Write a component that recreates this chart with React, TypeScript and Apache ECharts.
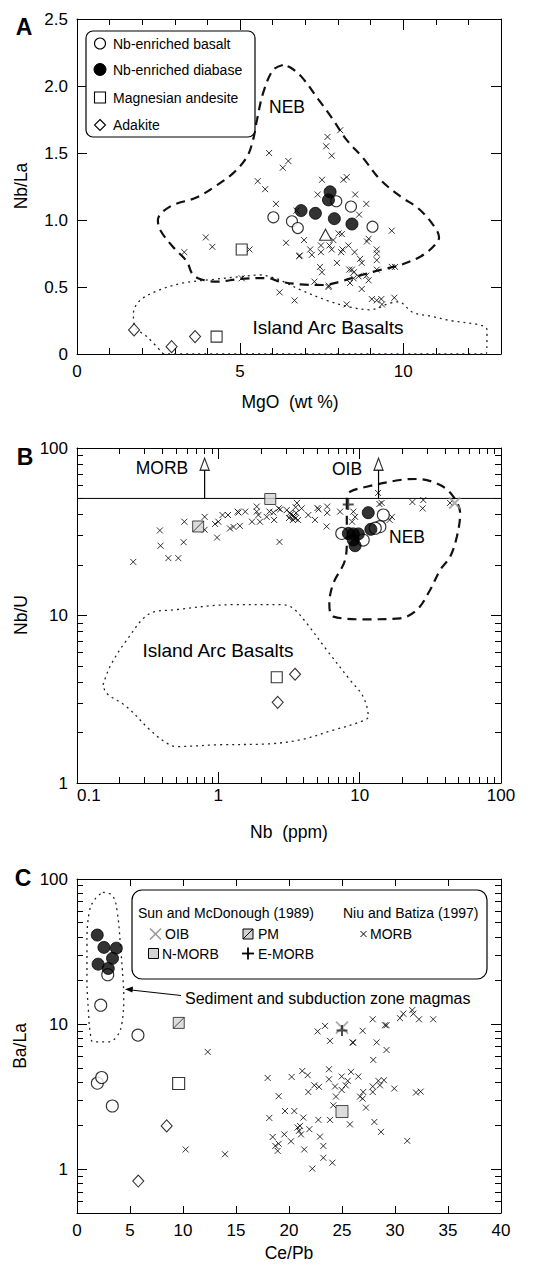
import React, { useEffect, useRef } from "react";
import * as echarts from "echarts";

const FONT = '"Liberation Sans", Arial, Helvetica, sans-serif';

// ---------------- Panel A : Nb/La vs MgO ----------------
const aMorb: number[][] = [
  [5.89, 1.5], [6.31, 1.39], [6.48, 1.44], [5.54, 1.29], [5.77, 1.23], [7.68, 1.62], [8.07, 1.67],
  [7.64, 1.55], [7.81, 1.48], [7.51, 1.3], [8.17, 1.3], [8.27, 1.32], [8.53, 1.19], [7.38, 1.19],
  [6.1, 1.12], [6.73, 1.07], [8.87, 1.12], [8.65, 1.04], [9.65, 0.92],
  [3.95, 0.87], [4.15, 0.8], [3.29, 0.76], [5.29, 0.78], [6.41, 0.83], [6.96, 0.85],
  [6.81, 0.73], [6.83, 0.735], [7.15, 0.78], [7.2, 0.74], [7.48, 0.81], [7.48, 0.76],
  [7.45, 0.65], [7.51, 0.61], [7.28, 0.54], [7.74, 0.81], [7.86, 0.85], [7.81, 0.78], [7.97, 0.68],
  [8.02, 0.9], [8.12, 0.895], [8.1, 0.76], [8.14, 0.78], [8.32, 0.81], [8.51, 0.76], [8.68, 0.71], [8.73, 0.68],
  [8.89, 0.84], [8.94, 0.86], [9.19, 0.78], [9.19, 0.75], [9.19, 0.7], [9.19, 0.63],
  [8.43, 0.63], [8.48, 0.565], [8.37, 0.53], [8.63, 0.58], [8.73, 0.485], [8.94, 0.55],
  [8.35, 0.63], [8.49, 0.61], [8.87, 0.585], [7.72, 0.51],
  [9.65, 0.65], [9.75, 0.65], [7.71, 0.5], [6.21, 0.46], [6.67, 0.4], [8.27, 0.37],
  [9.04, 0.41], [9.19, 0.4], [9.33, 0.41], [9.35, 0.37], [9.73, 0.42], [5.05, 0.565],
];
const aBasalt: number[][] = [[6.02, 1.02], [6.59, 0.99], [6.77, 0.94], [7.95, 1.14], [8.4, 1.1], [9.06, 0.95]];
const aDiabase: number[][] = [[6.87, 1.07], [7.31, 1.05], [7.89, 1.01], [8.43, 0.97], [7.76, 1.21], [7.71, 1.15]];
const aAndesite: number[][] = [[5.05, 0.78], [4.28, 0.13]];
const aAdakite: number[][] = [[1.75, 0.18], [2.9, 0.055], [3.62, 0.13]];
const aOther: number[][] = [[7.62, 0.89]];
const aNeb: number[][] = [
  [6.31, 2.157], [6.01, 2.12], [5.71, 1.95], [5.52, 1.75], [5.4, 1.6], [5.21, 1.47], [4.79, 1.35],
  [4.29, 1.26], [3.68, 1.17], [2.85, 1.1], [2.48, 1.0], [2.55, 0.925], [2.94, 0.8], [3.37, 0.69],
  [3.53, 0.6], [3.77, 0.56], [4.29, 0.54], [5.0, 0.56], [5.83, 0.567], [6.23, 0.54], [6.84, 0.52],
  [7.55, 0.515], [8.07, 0.54], [8.59, 0.58], [9.29, 0.627], [9.91, 0.664], [10.52, 0.726],
  [10.92, 0.8], [11.1, 0.87], [10.9, 0.97], [10.45, 1.09], [9.95, 1.17], [9.3, 1.3], [8.78, 1.46],
  [8.26, 1.6], [7.82, 1.76], [7.4, 1.9], [6.88, 2.07], [6.53, 2.14], [6.31, 2.157],
];
const aIab: number[][] = [
  [2.65, 0.0], [2.14, 0.13], [1.78, 0.2], [1.73, 0.3], [1.93, 0.4], [2.55, 0.48], [3.26, 0.53],
  [4.18, 0.557], [5.0, 0.577], [5.61, 0.59], [6.02, 0.57], [6.33, 0.54], [6.84, 0.48], [7.66, 0.4],
  [8.37, 0.35], [8.99, 0.33], [9.6, 0.38], [9.85, 0.39], [10.3, 0.31], [10.9, 0.28], [11.44, 0.25],
  [12.36, 0.216], [12.57, 0.18], [12.55, 0.0], [2.65, 0.0],
];
const aXMajor = [0, 5, 10];
const aXMinor = [1, 2, 3, 4, 6, 7, 8, 9, 11, 12];
const aYTicks = [0, 0.5, 1, 1.5, 2, 2.5];

// ---------------- Panel B : Nb/U vs Nb ----------------
const bMorb: number[][] = [
  [0.25, 20.9], [0.386, 32.2], [0.39, 26.1], [0.443, 22.0], [0.521, 22.0], [0.575, 36.3], [0.568, 27.4],
  [0.8, 38.8], [0.8, 32.5], [0.948, 35.2], [1.0, 36.3], [0.98, 29.2], [1.07, 39.8], [1.17, 39.8],
  [1.21, 33.1], [1.28, 33.8], [1.37, 41.7], [1.39, 41.2], [1.42, 34.3], [1.55, 41.7], [1.73, 36.3],
  [1.87, 44.7], [1.87, 41.7], [1.92, 39.8], [1.97, 36.3], [2.2, 38.8], [2.3, 41.7], [2.48, 37.2],
  [2.45, 41.2], [2.67, 43.6], [2.74, 43.0], [2.71, 27.5], [3.05, 42.6], [3.27, 40.2], [3.37, 37.2],
  [3.45, 38.8], [3.55, 41.0], [3.6, 47.0], [3.52, 44.3], [3.66, 37.2], [3.16, 38.2], [3.88, 43.6],
  [3.2, 40.9], [3.4, 39.5], [3.5, 37.9],
  [4.33, 39.8], [4.83, 37.2], [5.03, 43.8], [5.12, 43.0], [5.89, 44.7], [5.89, 41.0], [5.84, 34.0],
  [7.27, 41.7], [9.02, 41.7], [9.28, 38.8], [8.84, 36.3], [13.5, 53.9], [13.8, 46.3], [14.3, 47.0],
  [16.9, 38.8], [16.3, 37.2], [23.6, 47.6], [28.2, 48.9], [27.9, 43.6], [43.6, 47.0],
];
const bBasalt: number[][] = [[14.7, 39.8], [13.9, 33.9], [12.9, 33.2], [7.47, 30.9], [10.6, 28.2]];
const bDiabase: number[][] = [[11.5, 41.1], [12.0, 32.7], [8.32, 30.9], [9.02, 30.7], [9.79, 30.7], [9.02, 28.2], [9.28, 26.1]];
const bAndesite: number[][] = [[2.59, 4.28]];
const bAdakite: number[][] = [[3.49, 4.46], [2.63, 3.03]];
const bPM: number[][] = [[0.72, 34]];
const bNMorb: number[][] = [[2.33, 49.6]];
const bOib: number[][] = [[47, 47]];
const bEMorb: number[][] = [[8.3, 46]];
const bLimit: number[][] = [[0.1, 50], [100, 50]];
const bArrowMorb: number[][] = [[0.8, 50], [0.8, 74]];
const bArrowOib: number[][] = [[13.6, 50], [13.6, 74]];
const bArrowHeads: number[][] = [[0.8, 80], [13.6, 80]];
const bNeb: number[][] = [
  [8.11, 44.6], [8.11, 50.2], [8.55, 54.8], [11.2, 58.7], [19.3, 64.4], [25.4, 65.3], [37.1, 60.1],
  [46.0, 51.2], [51.4, 40.7], [48.7, 29.5], [43.6, 22.4], [37.1, 18.7], [31.5, 14.2], [25.4, 10.8],
  [19.3, 9.62], [11.2, 9.49], [6.52, 9.84], [6.1, 11.8], [6.52, 15.6], [7.88, 21.4], [8.11, 28.2],
  [8.11, 35.5], [8.11, 44.6],
];
const bIab: number[][] = [
  [0.153, 3.85], [0.171, 4.95], [0.225, 7.14], [0.329, 10.3], [0.48, 10.8], [1.28, 11.6], [2.88, 11.6],
  [3.4, 11.0], [4.22, 8.98], [5.85, 6.22], [8.55, 4.12], [10.6, 3.27], [11.5, 2.49], [10.1, 2.32],
  [6.52, 2.07], [3.79, 1.81], [2.2, 1.71], [0.975, 1.69], [0.508, 1.65], [0.431, 1.73], [0.329, 2.07],
  [0.225, 2.85], [0.162, 3.43], [0.153, 3.85],
];
const bXMajor = [0.1, 1, 10, 100];
const bXMinor = [0.2, 0.3, 0.4, 0.5, 0.6, 0.7, 0.8, 0.9, 2, 3, 4, 5, 6, 7, 8, 9, 20, 30, 40, 50, 60, 70, 80, 90];
const bYMajor = [1, 10, 100];
const bYMinor = [2, 3, 4, 5, 6, 7, 8, 9, 20, 30, 40, 50, 60, 70, 80, 90];

// ---------------- Panel C : Ba/La vs Ce/Pb ----------------
const cMorb: number[][] = [
  [12.33, 6.44], [10.25, 1.37], [13.96, 1.27], [17.99, 4.26], [18.14, 2.26], [19.03, 3.19],
  [18.46, 1.67], [18.71, 1.45], [18.93, 1.34], [19.03, 1.5], [19.62, 2.52], [20.5, 2.52],
  [19.56, 1.74], [20.19, 1.56], [20.25, 4.33], [21.35, 2.27], [20.82, 1.94], [21.04, 1.99],
  [21.13, 1.74], [20.94, 1.84], [21.25, 4.76], [21.76, 4.45], [21.44, 1.37], [21.82, 3.41],
  [21.92, 1.89], [22.2, 1.01], [22.39, 3.79], [22.83, 3.7], [22.77, 2.19], [22.7, 8.91],
  [23.4, 9.73], [22.92, 1.68], [23.24, 1.45], [23.24, 1.2], [23.87, 7.67], [23.77, 4.89],
  [23.77, 4.17], [23.87, 2.19], [24.18, 2.76], [24.09, 1.11], [24.34, 3.72], [24.43, 3.17],
  [24.97, 4.36], [24.97, 3.52], [25.35, 3.79], [25.54, 4.07], [25.75, 2.04], [25.85, 4.69],
  [26.0, 7.49], [26.05, 7.45], [26.54, 4.36], [26.7, 3.17], [26.95, 3.07], [27.0, 3.41], [27.26, 2.66],
  [26.95, 9.0], [27.9, 3.72], [27.9, 3.41], [28.05, 2.12], [27.95, 5.67], [27.9, 10.8],
  [28.27, 7.49], [28.43, 4.07], [28.58, 3.79], [28.96, 4.11], [28.68, 1.81], [29.06, 9.83],
  [29.2, 9.83], [29.2, 6.64], [29.93, 3.6], [30.47, 11.0], [30.78, 11.8], [31.63, 12.5],
  [31.73, 11.8], [32.26, 10.8], [33.6, 10.8], [31.16, 1.57], [31.98, 3.38], [32.42, 3.43],
];
const cBasalt: number[][] = [[2.24, 13.5], [5.75, 8.4], [1.92, 3.92], [2.33, 4.29], [3.33, 2.73], [2.9, 21.9]];
const cDiabase: number[][] = [[1.91, 41.1], [2.54, 33.8], [3.71, 33.4], [3.35, 28.4], [1.99, 25.9], [2.95, 24.2]];
const cAndesite: number[][] = [[9.59, 3.9]];
const cAdakite: number[][] = [[8.46, 1.99], [5.78, 0.83]];
const cPM: number[][] = [[9.6, 10.2]];
const cNMorb: number[][] = [[25, 2.5]];
const cOib: number[][] = [[25, 9.46]];
const cEMorb: number[][] = [[25, 9.05]];
const cEnvelope: number[][] = [
  [2.44, 81], [3.35, 76.7], [3.8, 58.9], [4.1, 34.7], [4.34, 20.4], [4.41, 15.7], [4.25, 10.3],
  [3.8, 8.3], [2.9, 7.55], [1.54, 7.55], [1.25, 8.77], [1.09, 12.0], [0.94, 20.4], [0.94, 34.7],
  [1.15, 58.9], [1.7, 72.8], [2.44, 81],
];
const cXTicks = [0, 5, 10, 15, 20, 25, 30, 35, 40];
const cYMajor = [1, 10, 100];
const cYMinor = [0.6, 0.7, 0.8, 0.9, 2, 3, 4, 5, 6, 7, 8, 9, 20, 30, 40, 50, 60, 70, 80, 90];

// ---------------- helpers ----------------
type Spec = {
  type: "value" | "log"; min: number; max: number; major: number[]; minor: number[];
  majorLen: number; minorLen: number; labels: number[]; margin: number; fmt: (v: number) => string;
  alignMin?: string;
};

function buildAxes(dim: "x" | "y", g: number, s: Spec) {
  const positions = dim === "x" ? ["bottom", "top"] : ["left", "right"];
  const out: any[] = [];
  positions.forEach((pos, i) => {
    [true, false].forEach((major) => {
      const vals = major ? s.major : s.minor;
      const label: any = i === 0 && major
        ? { show: true, customValues: s.labels, margin: s.margin, color: "#000", fontSize: 17, fontFamily: FONT, formatter: s.fmt }
        : { show: false };
      if (s.alignMin && label.show) label.alignMinLabel = s.alignMin;
      out.push({
        gridIndex: g, type: s.type, min: s.min, max: s.max, position: pos, logBase: 10,
        axisLine: { show: major, onZero: false, lineStyle: { color: "#000", width: 1 } },
        axisTick: {
          show: vals.length > 0, inside: true, length: major ? s.majorLen : s.minorLen,
          customValues: vals, lineStyle: { color: "#000", width: 1 },
        },
        axisLabel: label,
        splitLine: { show: false },
        minorTick: { show: false },
        axisPointer: { show: false },
      });
    });
  });
  return out;
}

const CROSS = "path://M0,0L10,10M10,0L0,10";
const PLUS = "path://M5,0L5,10M0,5L10,5";
const HATCH = "path://M0,0L10,0L10,10L0,10Z M0,10L10,0";

function sc(g: number, data: number[][], symbol: string, size: any, style: any, z: number) {
  return { type: "scatter", xAxisIndex: g * 4, yAxisIndex: g * 4, data, symbol, symbolSize: size, itemStyle: style, z, silent: true };
}
function ln(g: number, data: number[][], style: any, smooth: number | boolean, z = 2) {
  return { type: "line", xAxisIndex: g * 4, yAxisIndex: g * 4, data, symbol: "none", lineStyle: style, smooth, silent: true, z };
}

const crossStyle = { color: "rgba(0,0,0,0)", borderColor: "#000", borderWidth: 1 };
const openStyle = { color: "#fff", borderColor: "#000", borderWidth: 1.1 };
const fillStyle = { color: "#000", borderColor: "#000", borderWidth: 1 };
const dashed = { color: "#111", width: 2.2, type: [9, 6] };
const dotted = { color: "#222", width: 1.3, type: [2, 4] };

function txt(x: number, y: number, text: string, size: number, extra: any = {}) {
  return {
    type: "text", x, y, z: 100, silent: true, ...extra,
    style: { text, fontSize: size, fontFamily: FONT, fill: "#000", align: "center", verticalAlign: "middle", ...(extra.style || {}) },
  };
}

export default function App() {
  const ref = useRef<HTMLDivElement>(null);
  useEffect(() => {
    if (!ref.current) return;
    const chart = echarts.init(ref.current, null, { renderer: "svg" });
    const fmtA = (v: number) => (v === 0 ? "0" : v.toFixed(1));
    const fmtS = (v: number) => String(+Number(v).toPrecision(4));

    const xAxis = [
      ...buildAxes("x", 0, { type: "value", min: 0, max: 13, major: aXMajor, minor: aXMinor, majorLen: 11, minorLen: 6, labels: aXMajor, margin: 9, fmt: fmtS }),
      ...buildAxes("x", 1, { type: "log", min: 0.1, max: 100, major: bXMajor, minor: bXMinor, majorLen: 11, minorLen: 6, labels: bXMajor, margin: 4, fmt: fmtS, alignMin: "left" }),
      ...buildAxes("x", 2, { type: "value", min: 0, max: 40, major: cXTicks, minor: [], majorLen: 7, minorLen: 4, labels: cXTicks, margin: 9, fmt: fmtS }),
    ];
    const yAxis = [
      ...buildAxes("y", 0, { type: "value", min: 0, max: 2.5, major: aYTicks, minor: [], majorLen: 10, minorLen: 5, labels: aYTicks, margin: 9, fmt: fmtA }),
      ...buildAxes("y", 1, { type: "log", min: 1, max: 100, major: bYMajor, minor: bYMinor, majorLen: 10, minorLen: 6, labels: bYMajor, margin: 9, fmt: fmtS }),
      ...buildAxes("y", 2, { type: "log", min: 0.5, max: 100, major: cYMajor, minor: cYMinor, majorLen: 10, minorLen: 6, labels: cYMajor, margin: 9, fmt: fmtS }),
    ];

    const series: any[] = [
      // Panel A
      ln(0, aIab, dotted, 0.35),
      ln(0, aNeb, dashed, 0.35),
      sc(0, aMorb, CROSS, 6, crossStyle, 3),
      sc(0, aOther, "triangle", [12, 11], openStyle, 4),
      sc(0, aAndesite, "rect", 11, openStyle, 4),
      sc(0, aAdakite, "diamond", [11, 12], openStyle, 4),
      sc(0, aBasalt, "circle", 11, openStyle, 4),
      sc(0, aDiabase, "circle", 12, fillStyle, 5),
      // Panel B
      ln(1, bIab, dotted, 0.35),
      ln(1, bNeb, dashed, 0.35),
      ln(1, bLimit, { color: "#000", width: 1 }, false),
      ln(1, bArrowMorb, { color: "#000", width: 1.2 }, false),
      ln(1, bArrowOib, { color: "#000", width: 1.2 }, false),
      sc(1, bArrowHeads, "triangle", [9, 12], { color: "#fff", borderColor: "#000", borderWidth: 1.3 }, 4),
      sc(1, bMorb, CROSS, 6, crossStyle, 3),
      sc(1, bAndesite, "rect", 11, openStyle, 4),
      sc(1, bAdakite, "diamond", [11, 12], openStyle, 4),
      sc(1, bBasalt, "circle", 12, openStyle, 4),
      sc(1, bDiabase, "circle", 12, fillStyle, 5),
      sc(1, bPM, HATCH, 11, { color: "#d3d3d3", borderColor: "#222", borderWidth: 1 }, 6),
      sc(1, bNMorb, "rect", 11, { color: "#d3d3d3", borderColor: "#222", borderWidth: 1 }, 6),
      sc(1, bOib, CROSS, 11, { color: "rgba(0,0,0,0)", borderColor: "#999", borderWidth: 2 }, 6),
      sc(1, bEMorb, PLUS, 11, { color: "rgba(0,0,0,0)", borderColor: "#222", borderWidth: 2 }, 6),
      // Panel C
      ln(2, cEnvelope, dotted, 0.4),
      sc(2, cMorb, CROSS, 6, crossStyle, 3),
      sc(2, cAndesite, "rect", 12, openStyle, 4),
      sc(2, cAdakite, "diamond", [11, 12], openStyle, 4),
      sc(2, cBasalt, "circle", 12, openStyle, 4),
      sc(2, cDiabase, "circle", 12, fillStyle, 5),
      sc(2, cPM, HATCH, 11, { color: "#d3d3d3", borderColor: "#222", borderWidth: 1 }, 6),
      sc(2, cNMorb, "rect", 12, { color: "#d3d3d3", borderColor: "#222", borderWidth: 1 }, 6),
      sc(2, cOib, CROSS, 12, { color: "rgba(0,0,0,0)", borderColor: "#999", borderWidth: 2 }, 6),
      sc(2, cEMorb, PLUS, 11, { color: "rgba(0,0,0,0)", borderColor: "#222", borderWidth: 2 }, 7),
    ];

    const left = (extra: any = {}) => ({ ...extra, style: { align: "left", ...(extra.style || {}) } });
    const graphic: any[] = [
      // panel letters
      txt(24, 27, "A", 23, { style: { fontWeight: "bold" } }),
      txt(25, 457, "B", 23, { style: { fontWeight: "bold" } }),
      txt(23, 878, "C", 23, { style: { fontWeight: "bold" } }),
      // axis titles
      txt(21, 186, "Nb/La", 17.5, { rotation: Math.PI / 2 }),
      txt(290, 402, "MgO  (wt %)", 17.5),
      txt(21, 615, "Nb/U", 17.5, { rotation: Math.PI / 2 }),
      txt(289, 832, "Nb  (ppm)", 17.5),
      txt(20, 1046, "Ba/La", 17.5, { rotation: Math.PI / 2 }),
      txt(289, 1253, "Ce/Pb", 17.5),
      // region labels
      txt(287, 107, "NEB", 17.5),
      txt(328, 327, "Island Arc Basalts", 19),
      txt(162, 468, "MORB", 17.5),
      txt(347, 469, "OIB", 17.5),
      txt(407, 537, "NEB", 17.5),
      txt(218, 650, "Island Arc Basalts", 19),
      txt(185, 998, "Sediment and subduction zone magmas", 16, left()),
      // legend A
      { type: "rect", z: 90, silent: true, shape: { x: 86, y: 31, width: 169, height: 106, r: 7 }, style: { fill: "#fff", stroke: "#000", lineWidth: 1.2 } },
      { type: "circle", z: 95, silent: true, shape: { cx: 100, cy: 43.5, r: 5.5 }, style: { fill: "#fff", stroke: "#000", lineWidth: 1.1 } },
      { type: "circle", z: 95, silent: true, shape: { cx: 100, cy: 69.5, r: 6 }, style: { fill: "#000", stroke: "#000" } },
      { type: "rect", z: 95, silent: true, shape: { x: 94.5, y: 92, width: 11, height: 11 }, style: { fill: "#fff", stroke: "#000", lineWidth: 1.1 } },
      { type: "polygon", z: 95, silent: true, shape: { points: [[100, 119.5], [105.5, 125], [100, 130.5], [94.5, 125]] }, style: { fill: "#fff", stroke: "#000", lineWidth: 1.1 } },
      txt(113, 43.5, "Nb-enriched basalt", 14, left()),
      txt(113, 69.5, "Nb-enriched diabase", 14, left()),
      txt(113, 97.5, "Magnesian andesite", 14, left()),
      txt(113, 125, "Adakite", 14, left()),
      // legend C
      { type: "rect", z: 90, silent: true, shape: { x: 132, y: 890, width: 355, height: 89, r: 10 }, style: { fill: "#fff", stroke: "#000", lineWidth: 1.2 } },
      txt(138, 912.5, "Sun and McDonough (1989)", 14, left()),
      txt(343, 912.5, "Niu and Batiza (1997)", 14, left()),
      { type: "line", z: 95, silent: true, shape: { x1: 150, y1: 928.5, x2: 161, y2: 939.5 }, style: { stroke: "#999", lineWidth: 1.6 } },
      { type: "line", z: 95, silent: true, shape: { x1: 161, y1: 928.5, x2: 150, y2: 939.5 }, style: { stroke: "#999", lineWidth: 1.6 } },
      txt(165, 934, "OIB", 14, left()),
      { type: "rect", z: 95, silent: true, shape: { x: 243, y: 929, width: 10, height: 10 }, style: { fill: "#d3d3d3", stroke: "#000", lineWidth: 1 } },
      { type: "line", z: 96, silent: true, shape: { x1: 243, y1: 939, x2: 253, y2: 929 }, style: { stroke: "#000", lineWidth: 1 } },
      txt(258, 934, "PM", 14, left()),
      { type: "line", z: 95, silent: true, shape: { x1: 360.5, y1: 931, x2: 366.5, y2: 937 }, style: { stroke: "#000", lineWidth: 1 } },
      { type: "line", z: 95, silent: true, shape: { x1: 366.5, y1: 931, x2: 360.5, y2: 937 }, style: { stroke: "#000", lineWidth: 1 } },
      txt(370, 934, "MORB", 14, left()),
      { type: "rect", z: 95, silent: true, shape: { x: 148.5, y: 948.5, width: 10, height: 10 }, style: { fill: "#d3d3d3", stroke: "#000", lineWidth: 1 } },
      txt(162, 953.5, "N-MORB", 14, left()),
      { type: "line", z: 95, silent: true, shape: { x1: 248, y1: 947.5, x2: 248, y2: 959.5 }, style: { stroke: "#000", lineWidth: 1.8 } },
      { type: "line", z: 95, silent: true, shape: { x1: 242, y1: 953.5, x2: 254, y2: 953.5 }, style: { stroke: "#000", lineWidth: 1.8 } },
      txt(258, 953.5, "E-MORB", 14, left()),
      // arrow in C
      { type: "line", z: 95, silent: true, shape: { x1: 181, y1: 995.5, x2: 131, y2: 990 }, style: { stroke: "#000", lineWidth: 1 } },
      { type: "polygon", z: 95, silent: true, shape: { points: [[125, 989.3], [133, 986.5], [132.4, 992.6]] }, style: { fill: "#000" } },
    ];

    chart.setOption({
      animation: false,
      backgroundColor: "#fff",
      textStyle: { fontFamily: FONT },
      grid: [
        { left: 77, top: 19, width: 424, height: 335, outerBoundsMode: "none" },
        { left: 77, top: 448, width: 424, height: 335, outerBoundsMode: "none" },
        { left: 77, top: 879, width: 424, height: 334, outerBoundsMode: "none" },
      ],
      xAxis,
      yAxis,
      series,
      graphic,
    });
    return () => chart.dispose();
  }, []);
  return <div ref={ref} style={{ position: "absolute", left: 0, top: 0, width: 538, height: 1269 }} />;
}
